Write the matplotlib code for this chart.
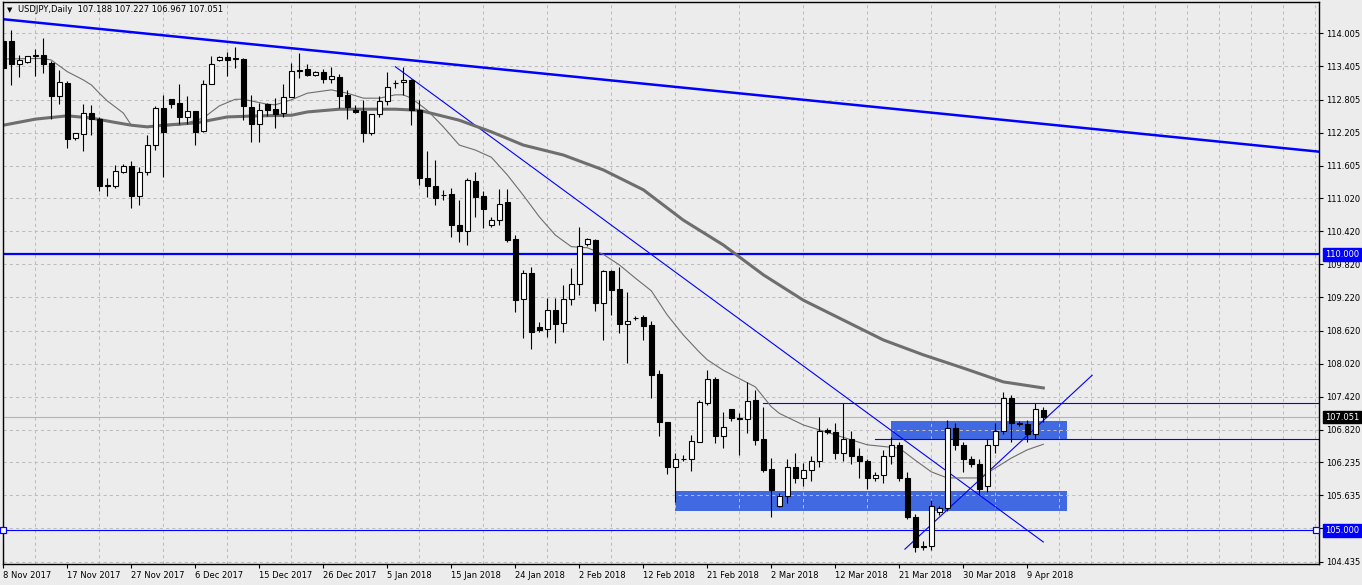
import numpy as np
import matplotlib
matplotlib.use("Agg")
import matplotlib.pyplot as plt

# ---------------- data ----------------
opens = [113.87,113.87,113.45,113.48,113.60,113.61,113.47,112.87,113.10,112.11,
         112.18,112.57,112.46,111.24,111.23,111.50,111.60,111.06,111.49,111.99,
         112.66,112.81,112.74,112.48,112.59,112.24,113.08,113.53,113.57,113.54,
         113.54,112.67,112.37,112.72,112.63,112.56,112.85,113.33,113.35,113.25,
         113.30,113.18,113.21,112.88,112.61,112.60,112.20,112.54,112.77,113.10,
         113.12,113.16,112.61,111.39,111.24,111.08,111.09,110.53,110.43,111.33,
         111.06,110.54,110.62,110.95,110.28,109.19,109.66,108.68,108.64,108.99,
         108.76,109.19,109.46,110.18,110.26,109.12,109.70,109.37,108.74,108.84,
         108.86,108.72,107.83,106.97,106.14,106.30,106.29,106.61,107.30,107.74,
         106.71,107.20,107.03,107.01,107.36,106.66,106.11,105.45,105.62,106.15,
         105.95,106.10,106.25,106.82,106.78,106.40,106.65,106.35,106.25,105.95,
         106.00,106.35,106.55,105.95,105.25,104.70,104.72,105.33,105.40,106.85,
         106.55,106.30,106.20,105.80,106.55,106.80,107.40,106.95,106.92,106.75,
         107.188]
highs = [113.92,114.06,113.62,113.60,113.72,113.92,113.50,113.34,113.14,112.19,
         112.72,112.70,112.49,111.38,111.62,111.63,111.69,111.59,112.16,112.69,
         112.89,112.82,113.09,112.87,112.59,113.16,113.59,113.59,113.67,113.75,
         113.55,112.89,112.74,112.74,112.83,113.09,113.47,113.65,113.45,113.32,
         113.36,113.39,113.27,112.98,112.71,112.80,112.54,112.87,113.30,113.16,
         113.40,113.17,112.80,111.88,111.71,111.17,111.20,110.99,111.38,111.50,
         111.14,110.68,111.19,111.18,110.35,109.72,109.77,108.77,109.21,109.21,
         109.44,109.75,110.50,110.30,110.28,109.72,109.72,109.78,109.31,108.88,
         108.90,108.79,107.91,106.97,106.40,106.37,106.73,107.37,107.91,107.78,
         107.14,107.20,107.12,107.69,107.54,107.24,106.31,105.67,106.30,106.40,
         106.22,106.35,107.05,106.85,106.95,107.30,106.80,106.50,106.30,106.05,
         106.45,106.70,106.60,106.05,105.30,104.80,105.55,105.45,107.00,106.95,
         106.60,106.35,106.30,106.65,106.95,107.50,107.45,106.98,107.00,107.30,
         107.227]
lows = [113.38,113.06,113.22,113.47,113.24,113.29,112.45,112.72,111.93,112.07,
        111.87,112.16,111.14,111.06,111.20,111.47,110.84,110.89,111.44,111.89,
        111.41,112.65,112.36,112.36,111.99,112.21,113.08,113.50,113.24,113.37,
        112.43,112.04,112.03,112.51,112.29,112.49,112.85,113.19,113.23,113.24,
        113.11,113.11,112.65,112.45,112.57,112.04,112.16,112.48,112.71,113.01,
        112.89,112.34,111.26,111.04,110.89,110.99,110.32,110.23,110.17,110.68,
        110.48,110.50,110.53,110.23,108.96,108.49,108.28,108.60,108.51,108.40,
        108.59,109.09,109.26,110.16,108.98,108.45,108.90,108.58,108.04,108.81,
        108.44,107.40,106.71,106.03,105.52,106.26,106.08,106.60,107.28,106.59,
        106.50,106.99,106.37,106.77,106.55,106.06,105.25,105.43,105.50,105.85,
        105.80,105.90,106.15,106.75,106.30,106.25,106.20,105.95,105.75,105.90,
        105.85,106.20,105.90,105.20,104.60,104.65,104.65,105.28,105.35,106.45,
        106.05,106.15,105.65,105.70,106.40,106.75,106.60,106.90,106.60,106.65,
        106.967]
closes = [113.38,113.45,113.52,113.59,113.61,113.45,112.87,113.12,112.09,112.19,
          112.57,112.46,111.24,111.25,111.51,111.60,111.06,111.49,111.99,112.66,
          112.22,112.72,112.49,112.59,112.22,113.08,113.44,113.57,113.53,113.55,
          112.68,112.37,112.62,112.62,112.54,112.85,113.33,113.34,113.25,113.30,
          113.18,113.23,112.87,112.67,112.58,112.20,112.54,112.77,113.03,113.10,
          113.16,112.61,111.39,111.23,111.03,111.08,110.54,110.43,111.35,111.04,
          110.82,110.62,110.92,110.26,109.17,109.66,108.59,108.63,108.99,108.74,
          109.19,109.46,110.15,110.28,109.12,109.70,109.36,108.74,108.79,108.84,
          108.71,107.81,106.97,106.14,106.29,106.30,106.62,107.32,107.75,106.71,
          106.87,107.04,107.01,107.34,106.64,106.09,105.73,105.62,106.15,105.95,
          106.10,106.25,106.80,106.78,106.40,106.65,106.35,106.25,105.95,106.00,
          106.35,106.55,105.95,105.25,104.70,104.72,105.45,105.40,106.85,106.55,
          106.30,106.20,105.75,106.55,106.80,107.40,106.95,106.92,106.75,107.20,
          107.051]

# moving averages (bar index, price)
ma_fast_idx = [0,5,6,8,10,11,12,13,15,16,18,22,25,27,29,30,33,34,36,38,41,43,45,47,49,50,
               51,53,55,57,59,61,63,65,67,69,71,73,75,77,79,81,83,85,87,88,90,92,94,96,97,
               100,104,108,112,114,116,118,120,122,124,126,128,130]
ma_fast_val = [113.54,113.55,113.52,113.31,113.16,113.07,112.92,112.78,112.56,112.34,112.31,
               112.34,112.47,112.69,112.81,112.81,112.72,112.71,112.80,112.92,112.98,112.92,
               112.83,112.83,112.89,112.89,112.83,112.61,112.31,111.98,111.89,111.76,111.44,
               111.07,110.68,110.35,110.14,110.12,110.00,109.81,109.57,109.34,108.90,108.54,
               108.23,108.09,107.90,107.75,107.60,107.24,107.12,106.91,106.73,106.55,106.49,
               106.27,106.06,105.95,105.95,105.95,106.13,106.31,106.46,106.56]
ma_slow_idx = [0,4,8,11,14,16,18,20,24,28,32,36,38,42,49,52,57,61,65,70,75,80,85,90,95,
               100,105,110,115,120,125,130]
ma_slow_val = [112.34,112.45,112.51,112.47,112.39,112.34,112.31,112.34,112.38,112.49,112.51,
               112.52,112.58,112.63,112.63,112.61,112.43,112.22,111.98,111.80,111.53,111.17,
               110.62,110.17,109.63,109.17,108.81,108.45,108.18,107.94,107.69,107.58]

# drawn objects (bar index, price)
long_trend_idx = [0, 164.5]
long_trend_val = [114.26, 111.86]
down_trend_idx = [49, 130]
down_trend_val = [113.40, 104.79]
up_trend_idx = [112.7, 136.1]
up_trend_val = [104.66, 107.81]
level_major = 110.0
level_minor = 105.0
level_a = 107.30
level_a_start = 95
level_b = 106.65
level_b_start = 109
zone_upper = (111, 133, 106.64, 106.98)
zone_lower = (84, 133, 105.35, 105.71)
bid = 107.051

date_idx = [0, 8, 16, 24, 32, 40, 48, 56, 64, 72, 80, 88, 96, 104, 112, 120, 128]
date_labels = ['8 Nov 2017', '17 Nov 2017', '27 Nov 2017', '6 Dec 2017', '15 Dec 2017',
               '26 Dec 2017', '5 Jan 2018', '15 Jan 2018', '24 Jan 2018', '2 Feb 2018',
               '12 Feb 2018', '21 Feb 2018', '2 Mar 2018', '12 Mar 2018', '21 Mar 2018',
               '30 Mar 2018', '9 Apr 2018']
price_ticks = [114.005, 113.405, 112.805, 112.205, 111.605, 111.020, 110.420, 109.820,
               109.220, 108.620, 108.020, 107.420, 106.820, 106.235, 105.635, 105.035, 104.435]
price_labels = ['114.005', '113.405', '112.805', '112.205', '111.605', '111.020', '110.420',
                '109.820', '109.220', '108.620', '108.020', '107.420', '106.820', '106.235',
                '105.635', '', '104.435']

title = 'USDJPY,Daily  107.188 107.227 106.967 107.051'

# ---------------- plot ----------------
plt.rcParams['font.family'] = ['DejaVu Sans']
FS = 6.0
W, H = 1362, 585
fig = plt.figure(figsize=(W / 100, H / 100), dpi=100, facecolor='#ececec')
ax = fig.add_axes([3 / W, (H - 564) / H, (1319 - 3) / W, (564 - 2) / H])
ax.set_facecolor('#ececec')
ax.set_xlim(-0.04, 164.46)
ax.set_ylim(104.391, 114.572)

BLUE = '#0000ff'

# zones
for z in (zone_upper, zone_lower):
    ax.fill_between([z[0], z[1]], z[2], z[3], color='#4169e1', lw=0, zorder=0.3)

# grid
ax.set_axisbelow(True)
ax.set_xticks(np.arange(0, 165, 4), minor=True)
ax.grid(True, which='minor', axis='x', color='#bdbdbd', lw=0.75, ls=(0, (3, 3)))
ax.grid(True, which='major', axis='y', color='#bdbdbd', lw=0.75, ls=(0, (3, 3)))

# bid line
ax.axhline(bid, color='#b4b4b4', lw=0.8, zorder=1)

# levels
ax.axhline(level_major, color=BLUE, lw=1.6, zorder=2)
ax.axhline(level_minor, color=BLUE, lw=0.8, zorder=2)
ax.plot([0, 164.1], [level_minor, level_minor], ls='none', marker='s', ms=4,
        mfc='white', mec=BLUE, mew=0.9, zorder=6, clip_on=False)
ax.plot([level_a_start, 170], [level_a, level_a], color=BLUE, lw=0.8, zorder=2)
ax.plot([level_b_start, 170], [level_b, level_b], color=BLUE, lw=0.8, zorder=2)

# trend lines
ax.plot(long_trend_idx, long_trend_val, color=BLUE, lw=1.8, zorder=2)
ax.plot(down_trend_idx, down_trend_val, color=BLUE, lw=0.8, zorder=2)
ax.plot(up_trend_idx, up_trend_val, color=BLUE, lw=0.8, zorder=2)

# moving averages
ax.plot(ma_slow_idx, ma_slow_val, color='#6e6e6e', lw=2.2, zorder=2.5, solid_joinstyle='round')
ax.plot(ma_fast_idx, ma_fast_val, color='#6e6e6e', lw=0.8, zorder=2.5)

# candles
o = np.array(opens); h = np.array(highs); l = np.array(lows); c = np.array(closes)
x = np.arange(len(o))
up = c >= o
ax.vlines(x, l, h, color='black', lw=0.8, zorder=3)
bottom = np.minimum(o, c)
height = np.abs(c - o)
ax.bar(x[up], height[up], bottom=bottom[up], width=0.62, facecolor='white',
       edgecolor='black', lw=0.8, zorder=4)
ax.bar(x[~up], height[~up], bottom=bottom[~up], width=0.62, facecolor='black',
       edgecolor='black', lw=0.8, zorder=4)

# axes styling
for s in ax.spines.values():
    s.set_color('black'); s.set_linewidth(1)
ax.yaxis.tick_right()
ax.set_yticks(price_ticks)
ax.set_yticklabels(price_labels)
ax.tick_params(axis='y', which='major', direction='out', length=3, width=0.8,
               pad=2, labelsize=FS, colors='black', left=False, right=True)
ax.set_xticks(date_idx)
ax.set_xticklabels(date_labels, ha='left')
ax.tick_params(axis='x', which='major', direction='out', length=3, width=0.8,
               pad=2, labelsize=FS, colors='black')
ax.tick_params(axis='x', which='minor', length=0)

# price boxes on the right
for val, fc in ((level_major, BLUE), (bid, 'black'), (level_minor, BLUE)):
    ax.annotate(f'{val:.3f}', xy=(1.0, val), xycoords=('axes fraction', 'data'),
                xytext=(4.5, 0), textcoords='offset points', ha='left', va='center',
                fontsize=FS, color='white', annotation_clip=False, zorder=10,
                bbox=dict(boxstyle='square,pad=0.22', fc=fc, ec=fc))

# title
fig.text(7 / W, 1 - 10 / H, '\u25BC', fontsize=5, va='center', ha='left', color='black')
fig.text(18 / W, 1 - 10 / H, title, fontsize=FS, va='center', ha='left', color='black')

fig.savefig('out.png', dpi=100, facecolor=fig.get_facecolor())
